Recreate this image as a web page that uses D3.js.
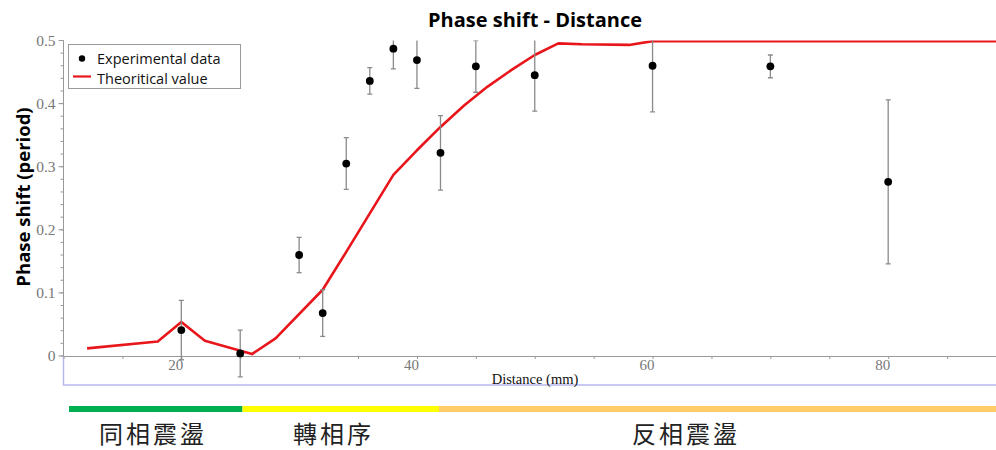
<!DOCTYPE html>
<html><head><meta charset="utf-8">
<script src="https://cdn.jsdelivr.net/npm/d3@7/dist/d3.min.js"></script>
<style>html,body{margin:0;padding:0;background:#fff;overflow:hidden}</style>
</head><body>
<svg id="c" width="996" height="450"></svg>
<script>
// ---- data ----
const expDistance = [20, 25, 30, 32, 34, 36, 38, 40, 42, 45, 50, 60, 70, 80];
const expPhase    = [0.041, 0.004, 0.160, 0.068, 0.305, 0.436, 0.487, 0.469, 0.322, 0.459, 0.445, 0.460, 0.459, 0.276];
const expError    = [0.047, 0.037, 0.028, 0.037, 0.041, 0.021, 0.032, 0.045, 0.059, 0.041, 0.057, 0.073, 0.018, 0.130];
const theoDistance = [12, 18, 20, 22, 26, 28, 32, 34, 36, 38, 40, 42, 44, 46, 48, 50, 52, 54, 58, 60, 90];
const theoPhase    = [0.012, 0.023, 0.054, 0.024, 0.003, 0.028, 0.105, 0.165, 0.226, 0.287, 0.326, 0.363, 0.397, 0.427, 0.453, 0.477, 0.4955, 0.494, 0.493, 0.499, 0.499];
const yTicks = [0, 0.1, 0.2, 0.3, 0.4, 0.5];
const xTicks = [20, 40, 60, 80];
const regionNames = ["同相震盪", "轉相序", "反相震盪"];
const regionColors = ["#00b050", "#ffff00", "#ffcc66"];

const svg = d3.select("#c");
const x = d3.scaleLinear().domain([10, 90]).range([63.5, 1006]);
const y = d3.scaleLinear().domain([-0.046, 0.5]).range([385, 40.5]);

// plot frame (lavender)
svg.append("path").attr("d", `M${x(10)},${y(0)}V${y(-0.046)}H996`)
  .attr("fill", "none").attr("stroke", "#b8b8f0").attr("stroke-width", 1.5);

// x axis
const xAxis = d3.axisBottom(x).tickValues(d3.range(15, 90, 5)).tickSize(3).tickFormat("");
const gx = svg.append("g").attr("transform", `translate(0,${y(0)})`).call(xAxis);
gx.select(".domain").attr("stroke", "#999");
gx.selectAll(".tick line").attr("stroke", "#999");
svg.append("g").selectAll("text").data(xTicks).join("text")
  .attr("x", d => x(d) + 2).attr("y", y(0) + 14.5)
  .attr("text-anchor", "end").attr("font-family", "Liberation Serif, serif")
  .attr("font-size", 15).attr("fill", "#777").text(d => d);

// y axis
const yMinor = d3.range(0, 0.5001, 0.02);
const gy = svg.append("g").attr("transform", `translate(${x(10)},0)`);
gy.append("line").attr("y1", y(0.5)).attr("y2", y(0)).attr("stroke", "#999");
gy.selectAll("line.mn").data(yMinor).join("line").attr("class", "mn")
  .attr("x1", -3).attr("x2", 0).attr("y1", d => y(d)).attr("y2", d => y(d)).attr("stroke", "#999");
gy.selectAll("line.mj").data(yTicks).join("line").attr("class", "mj")
  .attr("x1", -5).attr("x2", 0).attr("y1", d => y(d)).attr("y2", d => y(d)).attr("stroke", "#999");
gy.selectAll("text").data(yTicks).join("text")
  .attr("x", -8).attr("y", d => y(d) + 5).attr("text-anchor", "end")
  .attr("font-family", "Liberation Serif, serif").attr("font-size", 15.5).attr("fill", "#777")
  .text(d => d === 0 ? "0" : d3.format(".1f")(d));

// axis titles
svg.append("text").attr("x", 535).attr("y", 384).attr("text-anchor", "middle")
  .attr("font-family", "Liberation Serif, serif").attr("font-size", 14.5).attr("fill", "#111")
  .text("Distance (mm)");
svg.append("text").attr("transform", "translate(30,197) rotate(-90)").attr("text-anchor", "middle")
  .attr("font-family", "Open Sans, sans-serif").attr("font-weight", "bold").attr("font-size", 18.5)
  .attr("fill", "#000").text("Phase shift (period)");
svg.append("text").attr("x", 535).attr("y", 27).attr("text-anchor", "middle")
  .attr("font-family", "Open Sans, sans-serif").attr("font-weight", "bold").attr("font-size", 20)
  .attr("fill", "#000").text("Phase shift - Distance");

// clip to plot
svg.append("clipPath").attr("id", "plotclip").append("rect")
  .attr("x", x(10)).attr("y", y(0.5)).attr("width", 996 - x(10)).attr("height", y(-0.046) - y(0.5));
const plot = svg.append("g").attr("clip-path", "url(#plotclip)");

// theoretical line
const theo = theoDistance.map((d, i) => [d, theoPhase[i]]);
plot.append("path").datum(theo)
  .attr("d", d3.line().x(d => x(d[0])).y(d => y(d[1])))
  .attr("fill", "none").attr("stroke", "#e8161b").attr("stroke-width", 2.6).attr("stroke-linejoin", "round");

// error bars + points
const exp = expDistance.map((d, i) => ({d, v: expPhase[i], e: expError[i]}));
const eb = plot.append("g").attr("stroke", "#8a8a8a").attr("stroke-width", 1.3);
eb.selectAll("line.v").data(exp).join("line").attr("class", "v")
  .attr("x1", d => x(d.d)).attr("x2", d => x(d.d))
  .attr("y1", d => y(d.v + d.e)).attr("y2", d => y(d.v - d.e));
eb.selectAll("line.t").data(exp).join("line").attr("class", "t")
  .attr("x1", d => x(d.d) - 2.5).attr("x2", d => x(d.d) + 2.5)
  .attr("y1", d => y(d.v + d.e)).attr("y2", d => y(d.v + d.e));
eb.selectAll("line.b").data(exp).join("line").attr("class", "b")
  .attr("x1", d => x(d.d) - 2.5).attr("x2", d => x(d.d) + 2.5)
  .attr("y1", d => y(d.v - d.e)).attr("y2", d => y(d.v - d.e));
plot.append("g").selectAll("circle").data(exp).join("circle")
  .attr("cx", d => x(d.d)).attr("cy", d => y(d.v)).attr("r", 3.9).attr("fill", "#000");

// legend
const lg = svg.append("g");
lg.append("rect").attr("x", 68.5).attr("y", 44.5).attr("width", 172).attr("height", 44)
  .attr("fill", "#fff").attr("stroke", "#9a9a9a");
lg.append("circle").attr("cx", 82).attr("cy", 58.5).attr("r", 3.2).attr("fill", "#000");
lg.append("line").attr("x1", 73).attr("x2", 91).attr("y1", 76.5).attr("y2", 76.5)
  .attr("stroke", "#e8161b").attr("stroke-width", 2.2);
lg.append("text").attr("x", 97).attr("y", 63.5).attr("font-family", "Open Sans, sans-serif")
  .attr("font-size", 14.5).attr("fill", "#111").text("Experimental data");
lg.append("text").attr("x", 97).attr("y", 83.5).attr("font-family", "Open Sans, sans-serif")
  .attr("font-size", 14.5).attr("fill", "#111").text("Theoritical value");

// region bars below the chart
const regionX = [69, 242.5, 439, 996];
svg.append("g").selectAll("rect").data(regionColors).join("rect")
  .attr("x", (d, i) => regionX[i]).attr("y", 406)
  .attr("width", (d, i) => regionX[i + 1] - regionX[i]).attr("height", 6)
  .attr("fill", d => d);
const labelX = [99, 293, 632];
svg.append("g").selectAll("text").data(regionNames).join("text")
  .attr("x", (d, i) => labelX[i]).attr("y", 443)
  .attr("font-family", "Noto Sans CJK TC, sans-serif").attr("font-size", 24)
  .attr("letter-spacing", 3).attr("fill", "#222").text(d => d);
</script>
</body></html>
